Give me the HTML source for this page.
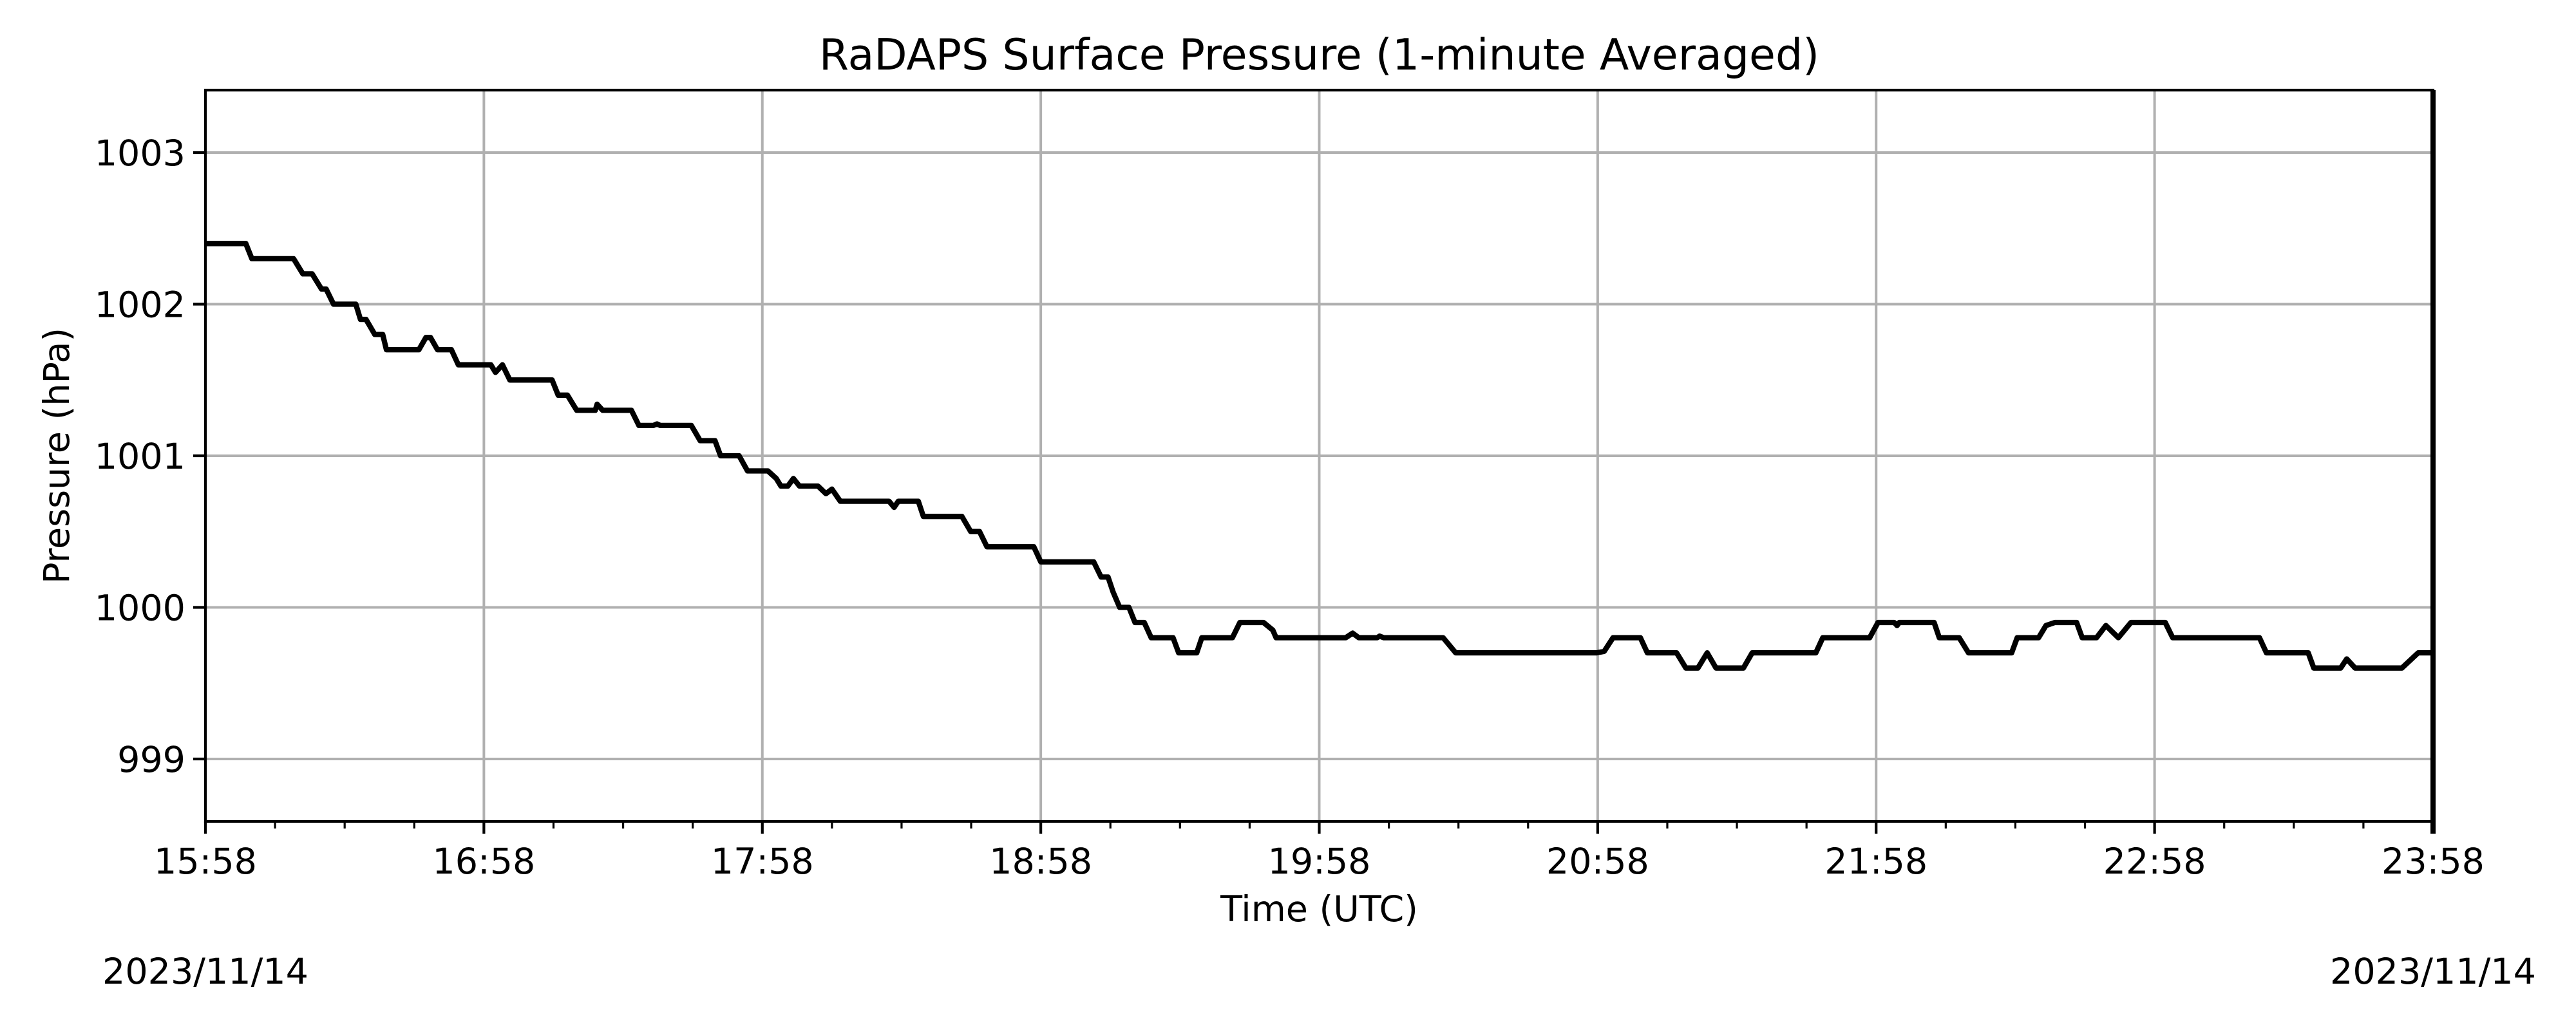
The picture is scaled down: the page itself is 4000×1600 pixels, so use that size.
<!DOCTYPE html>
<html><head><meta charset="utf-8"><style>
html,body{margin:0;padding:0;background:#fff;}
svg{display:block;font-family:"DejaVu Sans","Liberation Sans",sans-serif;}
</style></head><body>
<svg id="chart" width="4000" height="1600" viewBox="0 0 4000 1600" xmlns="http://www.w3.org/2000/svg">
<rect width="4000" height="1600" fill="#fff"/>
<text x="2048.5" y="108" font-size="66.5" text-anchor="middle">RaDAPS Surface Pressure (1-minute Averaged)</text>
<g id="grid"></g>
<g id="series"></g>
<g id="axes"></g>
<text x="2048.5" y="1431" font-size="55.5" text-anchor="middle">Time (UTC)</text>
<text transform="translate(107,708) rotate(-90)" font-size="55.5" text-anchor="middle">Pressure (hPa)</text>
<text x="319" y="1528" font-size="55.5" text-anchor="middle">2023/11/14</text>
<text x="3778" y="1528" font-size="55.5" text-anchor="middle">2023/11/14</text>
</svg>
<script>
// minutes since 15:58 UTC
const times = [0,8.7,10,19,21,23,25,26,27.6,32.4,33.4,34.6,36.5,38.2,39,46,47.5,48.5,50,53,54.5,61.5,62.5,64,65.6,74.7,76,78,80,84,84.4,85.6,91.8,93.4,96.5,97.3,98,104.7,106.6,109.8,111,115,116.8,121.2,123,124,125.5,126.7,128,132,133.7,135,136.8,147.3,148.4,149.3,153.6,154.7,163,164.9,166.8,168.4,178.5,180,191.4,193,194.5,195.6,197,199,200.3,202.3,203.8,208.5,209.7,213.6,214.7,221.3,222.9,228,230,230.7,245.7,247.2,248.5,252.5,253,253.9,266.7,269.4,299.8,301.4,303.3,309.2,310.7,317,319,321.6,323.6,325.5,331.4,333.3,347,348.5,358.6,360.4,363.9,364.5,365,372.5,373.6,377.9,379.9,389.2,390.4,395,396.6,398.5,403.2,404.4,407.5,409.5,412.2,414.9,422.3,423.9,442.6,444.1,453.1,454.3,460.1,461.4,463.2,473.3,476.8,480];
const pressures = [1002.4,1002.4,1002.3,1002.3,1002.2,1002.2,1002.1,1002.1,1002.0,1002.0,1001.9,1001.9,1001.8,1001.8,1001.7,1001.7,1001.78,1001.78,1001.7,1001.7,1001.6,1001.6,1001.55,1001.6,1001.5,1001.5,1001.4,1001.4,1001.3,1001.3,1001.34,1001.3,1001.3,1001.2,1001.2,1001.21,1001.2,1001.2,1001.1,1001.1,1001.0,1001.0,1000.9,1000.9,1000.85,1000.8,1000.8,1000.85,1000.8,1000.8,1000.75,1000.78,1000.7,1000.7,1000.66,1000.7,1000.7,1000.6,1000.6,1000.5,1000.5,1000.4,1000.4,1000.3,1000.3,1000.2,1000.2,1000.1,1000.0,1000.0,999.9,999.9,999.8,999.8,999.7,999.7,999.8,999.8,999.9,999.9,999.85,999.8,999.8,999.83,999.8,999.8,999.81,999.8,999.8,999.7,999.7,999.71,999.8,999.8,999.7,999.7,999.6,999.6,999.7,999.6,999.6,999.7,999.7,999.8,999.8,999.9,999.9,999.88,999.9,999.9,999.8,999.8,999.7,999.7,999.8,999.8,999.88,999.9,999.9,999.8,999.8,999.88,999.8,999.9,999.9,999.8,999.8,999.7,999.7,999.6,999.6,999.66,999.6,999.6,999.7,999.7];
const yTicks = [999,1000,1001,1002,1003];
const xTickLabels = ["15:58","16:58","17:58","18:58","19:58","20:58","21:58","22:58","23:58"];

const NS = "http://www.w3.org/2000/svg";
const L = 319, R = 3778, T = 140, B = 1276;
const X0 = 0, X1 = 480, Y0 = 998.588, Y1 = 1003.412;
function xs(t){ return L + (t - X0) / (X1 - X0) * (R - L); }
function ys(v){ return B - (v - Y0) / (Y1 - Y0) * (B - T); }
function mk(tag, attrs, parent){ const e = document.createElementNS(NS, tag); for (const k in attrs) e.setAttribute(k, attrs[k]); parent.appendChild(e); return e; }

const grid = document.getElementById('grid');
const axes = document.getElementById('axes');
const series = document.getElementById('series');

xTickLabels.forEach((lab, i) => {
  const x = xs(i * 60);
  const g = mk('line', {x1:x, x2:x, y1:T, y2:B, stroke:'#b0b0b0', 'stroke-width':4}, grid);
  
  
  const tk = mk('line', {x1:x, x2:x, y1:B, y2:B+19, stroke:'#000', 'stroke-width':4.2}, axes);
  
  
  const tx = mk('text', {x:x, y:1357, 'font-size':55.5, 'text-anchor':'middle'}, axes);
  tx.textContent = lab;
  
  
});
for (let m = 15; m < 480; m += 15) {
  if (m % 60 === 0) continue;
  const x = xs(m);
  const mt = mk('line', {x1:x, x2:x, y1:B, y2:B+11, stroke:'#000', 'stroke-width':3.2}, axes);
  
  
}
yTicks.forEach(v => {
  const y = ys(v);
  const g = mk('line', {x1:L, x2:R, y1:y, y2:y, stroke:'#b0b0b0', 'stroke-width':4}, grid);
  
  
  const tk = mk('line', {x1:L-19, x2:L, y1:y, y2:y, stroke:'#000', 'stroke-width':4.2}, axes);
  
  
  const tx = mk('text', {x:288, y:y+20, 'font-size':55.5, 'text-anchor':'end'}, axes);
  tx.textContent = String(v);
  
  
});

const pts = times.map((t, i) => xs(t).toFixed(1) + ',' + ys(pressures[i]).toFixed(1)).join(' ');
const line = mk('polyline', {points:pts, fill:'none', stroke:'#000', 'stroke-width':8.3, 'stroke-linejoin':'round', 'stroke-linecap':'butt'}, series);



const frame = mk('rect', {x:L, y:T, width:R-L, height:B-T, fill:'none', stroke:'#000', 'stroke-width':4.2}, axes);


const rs = mk('line', {x1:R, x2:R, y1:T, y2:B+19, stroke:'#000', 'stroke-width':8}, axes);


</script>
</body></html>
